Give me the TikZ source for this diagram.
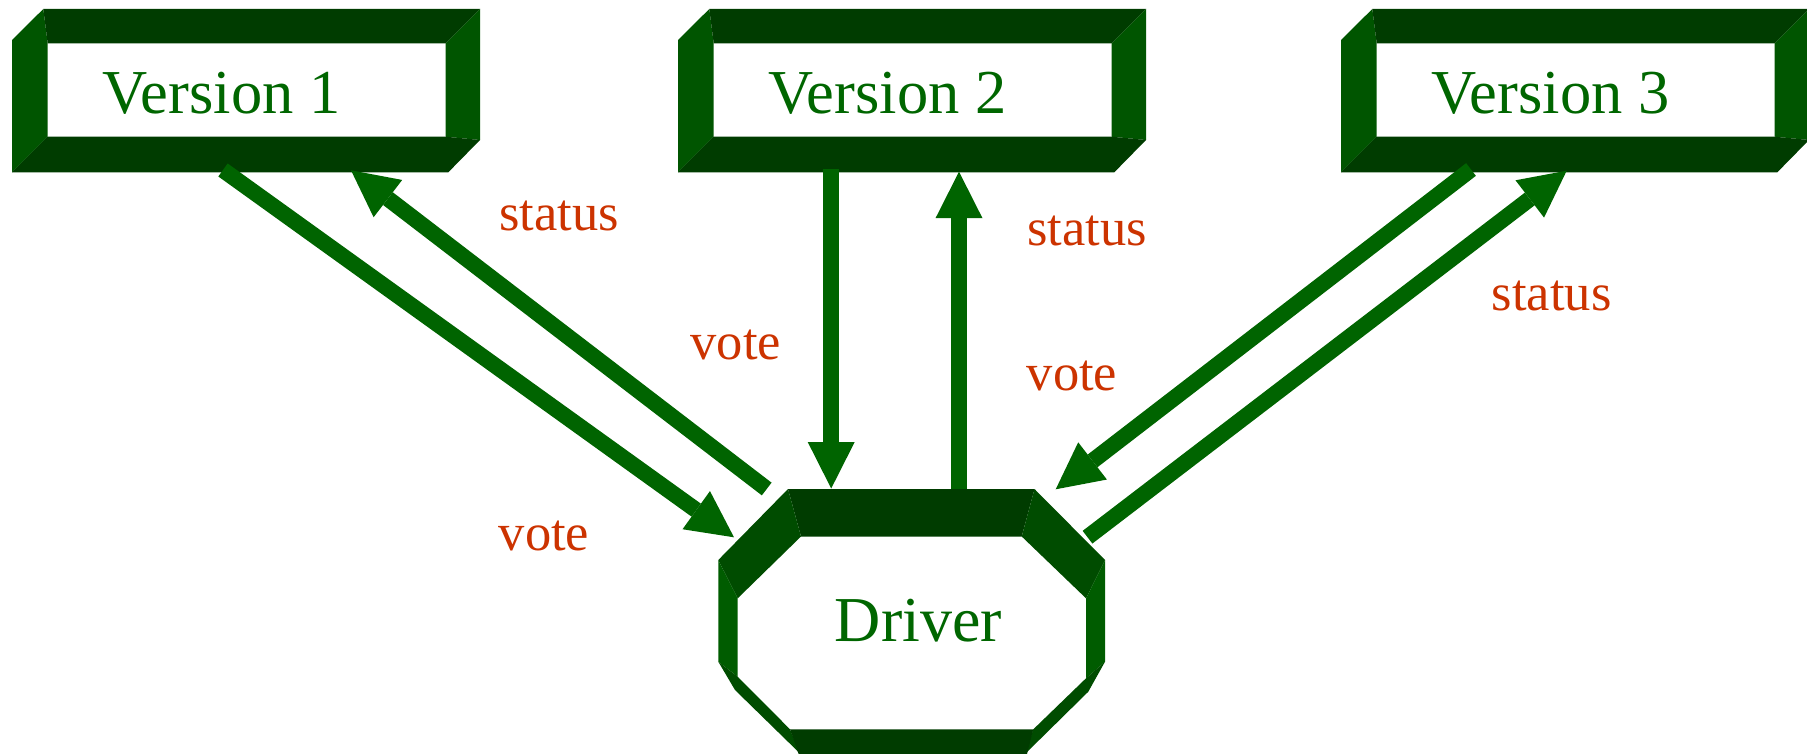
\documentclass[tikz,border=0pt]{standalone}
\usepackage{fontspec}
\setmainfont{Liberation Serif}
\usetikzlibrary{arrows.meta}
\definecolor{faceTB}{RGB}{0,60,0}
\definecolor{faceLR}{RGB}{0,85,0}
\definecolor{faceDiag}{RGB}{0,76,0}
\definecolor{faceSide}{RGB}{0,92,0}
\definecolor{arrowgreen}{RGB}{0,100,0}
\definecolor{textgreen}{RGB}{0,102,0}
\definecolor{labelred}{RGB}{204,51,0}
\tikzset{
  vertext/.style={anchor=base, text=textgreen, font=\fontsize{62.5}{70}\selectfont, inner sep=0pt},
  drvtext/.style={anchor=base, text=textgreen, font=\fontsize{64}{70}\selectfont, inner sep=0pt},
  lbl/.style={anchor=base, text=labelred, font=\fontsize{52.5}{60}\selectfont, inner sep=0pt},
  fat/.style={draw=arrowgreen, line width=16pt, -{Triangle[length=46.5pt,width=47pt,line width=0pt]}},
  holder/.style={inner sep=0pt, draw=none}
}
\newcommand{\verbox}[3]{%
  \begin{scope}[shift={(#1,0)}]
    \fill[faceLR] (0,40) -- (31.3,9) -- (35.7,43.3) -- (35.7,136.7) -- (0,172.3) -- cycle;
    \fill[faceTB] (31.3,9) -- (468,9) -- (433.7,43.3) -- (35.7,43.3) -- cycle;
    \fill[faceLR] (468,9) -- (468,140) -- (433.7,136.7) -- (433.7,43.3) -- cycle;
    \fill[faceTB] (0,172.3) -- (35.7,136.7) -- (433.7,136.7) -- (468,140) -- (436.3,172.3) -- cycle;
    \node[holder, minimum width=468pt, minimum height=163pt] (#2) at (234,90.6) {};
    \node[vertext] (#2t) at (209.5,113.3) {#3};
  \end{scope}}
\begin{document}
\begin{tikzpicture}[x=1pt,y=-1pt]
\useasboundingbox (0,0) rectangle (1807,754);
\clip (0,0) rectangle (1807,754);
% version boxes
\verbox{12}{v1}{Version 1}
\verbox{678}{v2}{Version 2}
\verbox{1341}{v3}{Version 3}
% driver octagon
\fill[faceTB] (788,489) -- (1034.5,489) -- (1021.7,536.5) -- (801,536.5) -- cycle;
\fill[faceDiag] (718.3,560) -- (788,489) -- (801,536.5) -- (737.7,598.3) -- cycle;
\fill[faceDiag] (1034.5,489) -- (1105,560) -- (1086,598.3) -- (1021.7,536.5) -- cycle;
\fill[faceSide] (718.3,560) -- (737.7,598.3) -- (737.7,676.7) -- (718.3,661.7) -- cycle;
\fill[faceSide] (1105,560) -- (1105,661.7) -- (1086,678.3) -- (1086,598.3) -- cycle;
\fill[faceDiag] (718.3,661.7) -- (737.7,676.7) -- (790,729.3) -- (799.5,753) -- (735,690) -- cycle;
\fill[faceDiag] (1105,661.7) -- (1088.3,691.7) -- (1025,754) -- (1033.3,729.3) -- (1086,678.3) -- cycle;
\fill[faceTB] (790,729.3) -- (1033.3,729.3) -- (1026,758) -- (800,758) -- cycle;
\node[holder, minimum width=387pt, minimum height=265pt] (drv) at (911.5,621.5) {};
\node[drvtext] (drvt) at (918.3,641.7) {Driver};
% arrow end points
\coordinate (a1s) at (223,170);   \coordinate (a1e) at (734,537.3);
\coordinate (b1s) at (766.7,489); \coordinate (b1e) at (351,170.3);
\coordinate (a2s) at (831.2,169); \coordinate (a2e) at (831.2,488.5);
\coordinate (b2s) at (959,489.3); \coordinate (b2e) at (959,171.7);
\coordinate (a3s) at (1471,169.5); \coordinate (a3e) at (1055.7,489.3);
\coordinate (b3s) at (1087.5,537.2); \coordinate (b3e) at (1566.7,170.7);
% arrows
\draw[fat] (a1s) -- (a1e);
\draw[fat] (b1s) -- (b1e);
\draw[fat] (a2s) -- (a2e);
\draw[fat] (b2s) -- (b2e);
\draw[fat] (a3s) -- (a3e);
\draw[fat] (b3s) -- (b3e);
% labels
\node[lbl] (l1) at (558.9,231) {status};
\node[lbl] (l2) at (544,550) {vote};
\node[lbl] (l3) at (735.7,359.3) {vote};
\node[lbl] (l4) at (1087.3,246) {status};
\node[lbl] (l5) at (1072,390.7) {vote};
\node[lbl] (l6) at (1551.7,310.5) {status};
\end{tikzpicture}
\end{document}
